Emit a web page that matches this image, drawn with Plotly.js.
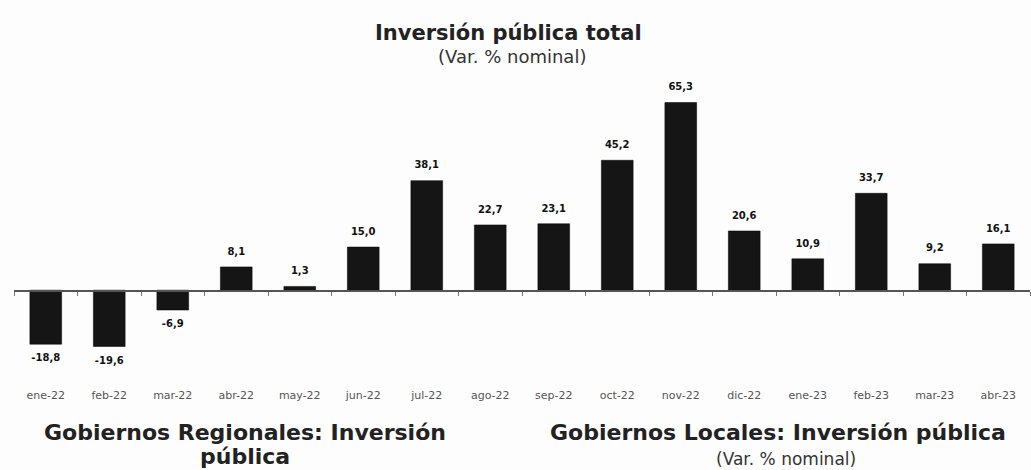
<!DOCTYPE html>
<html>
<head>
<meta charset="utf-8">
<script src="https://cdn.plot.ly/plotly-3.0.1.min.js"></script>
<style>
  body { margin:0; padding:0; background:#fdfdfd; }
  #myDiv { width:1031px; height:470px; }
</style>
</head>
<body>
<div id="myDiv"></div>
<script>
// Inversion publica total, var. % nominal
let meses=['ene-22','feb-22','mar-22','abr-22','may-22','jun-22','jul-22','ago-22',
           'sep-22','oct-22','nov-22','dic-22','ene-23','feb-23','mar-23','abr-23'];
let var_nominal=[-18.8,-19.6,-6.9,8.1,1.3,15.0,38.1,22.7,23.1,45.2,65.3,20.6,10.9,33.7,9.2,16.1];

let y_min=-25;
let y_max=70;

function plot_inversion() {

  let zero_pos=(0-y_min)/(y_max-y_min);

  let traceBar = { x: meses,
                   y: var_nominal,
                   type: 'bar',
                   marker: { color: '#151515', line: { color: '#000000', width: 0.5 } },
                   hoverinfo: 'x+y',
                   showlegend: false };

// value labels, pushed a bit off the bar ends with an invisible marker
  let traceLbl = { x: meses,
                   y: var_nominal,
                   type: 'scatter',
                   mode: 'markers+text',
                   marker: { size: 14, opacity: 0 },
                   text: var_nominal.map(v => v.toFixed(1).replace('.', ',')),
                   textposition: var_nominal.map(v => v < 0 ? 'bottom center' : 'top center'),
                   cliponaxis: false,
                   textfont: { family: 'DejaVu Sans', size: 10, color: '#111111', weight: 'bold' },
                   hoverinfo: 'skip',
                   showlegend: false };

  let data = [ traceBar, traceLbl ];

  let layout = {
    paper_bgcolor: '#fdfdfd',
    plot_bgcolor: '#fdfdfd',
    width: 1031,
    height: 470,
    margin: { l:14, r:1, t:89, b:108 },
    bargap: 0.5,
    separators: ',.',
    title: { text: '<b>Inversión pública total</b>',
             font: { family: 'DejaVu Sans', size: 21, color: '#222222' },
             xref: 'container', x: 0.493, xanchor: 'center',
             yref: 'container', y: 1-33/470, yanchor: 'middle' },
    xaxis: {
      type: 'category',
      range: [-0.5, meses.length-0.5],
      anchor: 'free',
      position: zero_pos,
      showline: true,
      linecolor: '#555555',
      linewidth: 1.5,
      showgrid: false,
      zeroline: false,
      ticks: 'outside',
      tickson: 'boundaries',
      ticklen: 4,
      tickcolor: '#777777',
      tickwidth: 1,
      ticklabelstandoff: 94,
      tickfont: { family: 'DejaVu Sans', size: 11, color: '#555555' } },
    yaxis: {
      range: [y_min, y_max],
      visible: false,
      showgrid: false,
      zeroline: false },
    annotations: [
      { text: '(Var. % nominal)', xref: 'paper', yref: 'paper',
        x: (512-14)/1016, y: (470-108-57)/(470-89-108), xanchor: 'center', yanchor: 'middle',
        showarrow: false, font: { family: 'DejaVu Sans', size: 18, color: '#333333' } },
      { text: '<b>Gobiernos Regionales: Inversión</b>', xref: 'paper', yref: 'paper',
        x: (245-14)/1016, y: (470-108-432)/(470-89-108), xanchor: 'center', yanchor: 'middle',
        showarrow: false, font: { family: 'DejaVu Sans', size: 22, color: '#222222' } },
      { text: '<b>pública</b>', xref: 'paper', yref: 'paper',
        x: (245-14)/1016, y: (470-108-456)/(470-89-108), xanchor: 'center', yanchor: 'middle',
        showarrow: false, font: { family: 'DejaVu Sans', size: 22, color: '#222222' } },
      { text: '<b>Gobiernos Locales: Inversión pública</b>', xref: 'paper', yref: 'paper',
        x: (778-14)/1016, y: (470-108-432)/(470-89-108), xanchor: 'center', yanchor: 'middle',
        showarrow: false, font: { family: 'DejaVu Sans', size: 22, color: '#222222' } },
      { text: '(Var. % nominal)', xref: 'paper', yref: 'paper',
        x: (786-14)/1016, y: (470-108-459)/(470-89-108), xanchor: 'center', yanchor: 'middle',
        showarrow: false, font: { family: 'DejaVu Sans', size: 17, color: '#333333' } }
    ]
  };

  let config = { displayModeBar: false, staticPlot: true };

  Plotly.newPlot('myDiv', data, layout, config);
}

plot_inversion();
</script>
</body>
</html>
